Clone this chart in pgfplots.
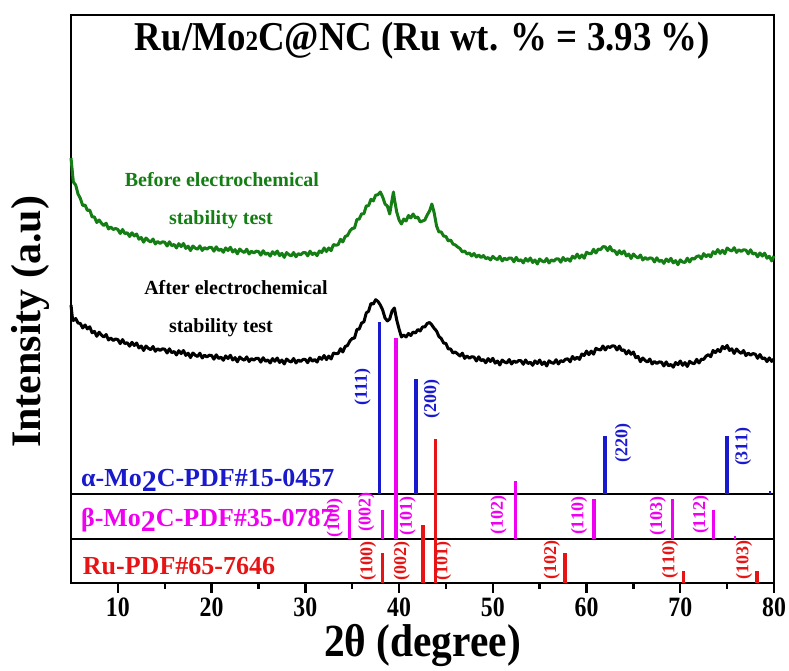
\documentclass[border=0pt]{standalone}
\usepackage{fontspec}
\setmainfont{Liberation Serif}
\usepackage{pgfplots}
\pgfplotsset{compat=1.18}
\definecolor{ablue}{RGB}{25,25,205}
\definecolor{bmag}{RGB}{240,0,240}
\definecolor{rured}{RGB}{230,20,20}
\definecolor{cgreen}{RGB}{20,125,20}
\newcommand{\fs}[1]{\fontsize{#1}{#1}\selectfont\bfseries}
\begin{document}
\begin{tikzpicture}
\begin{axis}[
  scale only axis, width=703pt, height=568pt,
  xmin=5, xmax=80, ymin=0, ymax=568,
  axis line style={line width=2.6pt},
  ytick=\empty,
  xtick={10,20,...,80}, minor xtick={15,25,...,75},
  xtick pos=bottom, tick align=outside,
  major tick length=10pt, minor tick length=6pt,
  every tick/.style={line width=2.4pt, black},
  xticklabels={10,20,30,40,50,60,70,80},
  xticklabel style={font=\fs{28}, xscale=0.85, yshift=-1pt},
  xlabel={\scalebox{0.9}[1]{\fs{46}2θ (degree)}},
  xlabel style={at={(axis description cs:0.5,0)}, anchor=center, yshift=-62pt},
  ylabel={\fs{42}Intensity (a.u)},
  ylabel style={at={(axis description cs:-0.057,0.46)}, anchor=center},
  clip=false,
]
% before (green)
\addplot[cgreen, line width=3pt, line join=round] coordinates {
(5.00,425) (5.25,401) (5.50,398) (5.75,389) (6.00,384.5) (6.25,377.5) (6.50,378) (6.75,372.5) (7.00,373) (7.25,366) (7.50,366) (7.75,360.5) (8.00,363) (8.25,359.8) (8.50,357.5) (8.75,359.8) (9.00,354) (9.25,356) (9.50,353.5) (9.75,354.5)
(10.00,353.5) (10.25,349.5) (10.50,353.5) (10.75,349.3) (11.00,350.3) (11.25,346.5) (11.50,350.2) (11.75,347) (12.00,349) (12.25,343.8) (12.50,345.5) (12.75,340.8) (13.00,345) (13.25,342.5) (13.50,341) (13.75,344) (14.00,339) (14.25,341.5) (14.50,339.5) (14.75,341.2)
(15.00,340.8) (15.25,337) (15.50,341.2) (15.75,337.3) (16.00,338.5) (16.25,335.1) (16.50,339.3) (16.75,336.4) (17.00,339.5) (17.25,334.6) (17.50,336.8) (17.75,332.4) (18.00,337) (18.25,334.9) (18.50,333.8) (18.75,337.1) (19.00,332.5) (19.25,335.4) (19.50,333.8) (19.75,335.6)
(20.00,335.5) (20.25,331.8) (20.50,336.2) (20.75,332.5) (21.00,333.9) (21.25,330.7) (21.50,335.1) (21.75,332.4) (22.00,335.7) (22.25,331) (22.50,333.4) (22.75,329.2) (23.00,334) (23.25,331.8) (23.50,330.5) (23.75,333.8) (24.00,329) (24.25,331.8) (24.50,330) (24.75,331.8)
(25.00,331.5) (25.25,327.9) (25.50,332.3) (25.75,328.6) (26.00,330) (26.25,326.9) (26.50,331.3) (26.75,328.6) (27.00,332) (27.25,327.4) (27.50,329.7) (27.75,325.6) (28.00,330.4) (28.25,328.3) (28.50,327.1) (28.75,330.5) (29.00,326.2) (29.25,329.4) (29.50,328.1) (29.75,330.3)
(30.00,330.5) (30.25,327.2) (30.50,331.8) (30.75,328.5) (31.00,330.2) (31.25,327.3) (31.50,332) (31.75,330.5) (32.00,335) (32.25,331.5) (32.50,335) (32.75,332.3) (33.00,338.5) (33.25,337.7) (33.50,338.3) (33.75,343.7) (34.00,341) (34.25,346.5) (34.50,347.5) (34.75,352)
(35.00,354.5) (35.25,355) (35.50,363.5) (35.75,364) (36.00,369.1) (36.25,369.3) (36.50,377) (36.75,377.4) (37.00,383.7) (37.25,382.1) (37.50,387.8) (37.75,388.3) (38.00,391) (38.25,386) (38.50,379) (38.75,377) (39.00,369) (39.25,383) (39.40,391) (39.50,384) (39.75,371)
(40.00,363) (40.25,359) (40.50,364) (40.75,362) (41.00,367.5) (41.25,365) (41.50,369) (41.75,365) (42.00,366) (42.25,361) (42.50,362) (42.75,363) (43.00,368) (43.25,372) (43.50,379) (43.75,370) (44.00,357) (44.25,351) (44.50,351) (44.75,347)
(45.00,346.5) (45.25,342) (45.50,343) (45.75,339) (46.00,338) (46.25,336) (46.50,334.5) (46.75,331) (47.00,332) (47.25,329) (47.50,330) (47.75,327) (48.00,329.5) (48.25,326) (48.50,328) (48.75,325.4) (49.00,327.5) (49.25,324.3) (49.50,325.5) (49.75,323)
(50.00,326.6) (50.25,324.5) (50.50,323.4) (50.75,326.7) (51.00,322) (51.25,324.8) (51.50,323.2) (51.75,325) (52.00,324.9) (52.25,321.2) (52.50,325.6) (52.75,322) (53.00,323.3) (53.25,320.1) (53.50,324.5) (53.75,321.8) (54.00,325) (54.25,320.5) (54.50,323) (54.75,319)
(55.00,324) (55.25,322) (55.50,321) (55.75,324.5) (56.00,320) (56.25,323.1) (56.50,321.8) (56.75,324) (57.00,324.2) (57.25,320.8) (57.50,325.5) (57.75,322.4) (58.00,324.4) (58.25,321.8) (58.50,326.8) (58.75,324.8) (59.00,328.9) (59.25,324.9) (59.50,328) (59.75,324.8)
(60.00,330.7) (60.25,329.5) (60.50,329.3) (60.75,333.7) (61.00,330) (61.25,333.9) (61.50,333.4) (61.75,336.3) (62.00,336.2) (62.25,332.4) (62.50,336.5) (62.75,332) (63.00,332.4) (63.25,328.4) (63.50,332.3) (63.75,329.1) (64.00,332) (64.25,327) (64.50,329) (64.75,324.5)
(65.00,329) (65.25,326.5) (65.50,325) (65.75,328) (66.00,323) (66.25,325.5) (66.50,323.6) (66.75,325.1) (67.00,324.7) (67.25,321) (67.50,325.2) (67.75,321.5) (68.00,322.8) (68.25,319.6) (68.50,324) (68.75,321.4) (69.00,324.7) (69.25,320.1) (69.50,322.4) (69.75,318.3)
(70.00,323.1) (70.25,321) (70.50,320.5) (70.75,324.8) (71.00,321) (71.25,324.7) (71.50,323.9) (71.75,326.5) (72.00,327.2) (72.25,324.3) (72.50,329.4) (72.75,326.4) (73.00,328.5) (73.25,326.1) (73.50,331.3) (73.75,329.4) (74.00,333.5) (74.25,329.6) (74.50,332.7) (74.75,329.3)
(75.00,335) (75.25,333) (75.50,332) (75.75,335.3) (76.00,330.6) (76.25,333.3) (76.50,331.5) (76.75,333.2) (77.00,332.9) (77.25,329.2) (77.50,333.2) (77.75,329) (78.00,329.9) (78.25,326.2) (78.50,330) (78.75,326.9) (79.00,329.8) (79.25,324.8) (79.50,326.7) (79.75,322.1) (80.00,327)
};
% after (black)
\addplot[black, line width=3pt, line join=round] coordinates {
(5.00,278) (5.15,265) (5.25,262.5) (5.50,264.5) (5.75,260) (6.00,259.5) (6.25,255) (6.50,258) (6.75,254.1) (7.00,256.2) (7.25,250.3) (7.50,251.6) (7.75,246.7) (8.00,250.8) (8.25,247.9) (8.50,246) (8.75,248.5) (9.00,243) (9.25,245) (9.50,242.5) (9.75,244)
(10.00,243.4) (10.25,239.4) (10.50,243.4) (10.75,239.3) (11.00,240.3) (11.25,236.8) (11.50,240.7) (11.75,237.5) (12.00,240) (12.25,235) (12.50,237) (12.75,232.5) (13.00,237) (13.25,234.7) (13.50,233.3) (13.75,236.5) (14.00,231.7) (14.25,234.3) (14.50,232.5) (14.75,234.2)
(15.00,233.8) (15.25,230) (15.50,234.2) (15.75,230.3) (16.00,231.5) (16.25,228.1) (16.50,232.3) (16.75,229.4) (17.00,232.5) (17.25,227.6) (17.50,229.8) (17.75,225.4) (18.00,230) (18.25,227.8) (18.50,226.5) (18.75,229.8) (19.00,225) (19.25,227.8) (19.50,226) (19.75,227.8)
(20.00,227.5) (20.25,223.8) (20.50,228.2) (20.75,224.5) (21.00,225.9) (21.25,222.7) (21.50,227.1) (21.75,224.4) (22.00,227.7) (22.25,223) (22.50,225.4) (22.75,221.2) (23.00,226) (23.25,223.9) (23.50,222.8) (23.75,226.1) (24.00,221.5) (24.25,224.4) (24.50,222.8) (24.75,224.7)
(25.00,224.5) (25.25,220.9) (25.50,225.3) (25.75,221.7) (26.00,223.1) (26.25,220) (26.50,224.4) (26.75,221.7) (27.00,225) (27.25,220.5) (27.50,223) (27.75,219) (28.00,224) (28.25,222) (28.50,221) (28.75,224.5) (29.00,220) (29.25,223) (29.50,221.5) (29.75,223.5)
(30.00,223.5) (30.25,220.3) (30.50,225) (30.75,221.8) (31.00,223.5) (31.25,220.9) (31.50,225.8) (31.75,223.7) (32.00,227.5) (32.25,223.4) (32.50,226.9) (32.75,224) (33.00,230) (33.25,229.3) (33.50,229.5) (33.75,234.3) (34.00,231) (34.25,236.5) (34.50,237.5) (34.75,242)
(35.00,244.5) (35.25,245) (35.50,253.5) (35.75,254) (36.00,259.9) (36.25,261.2) (36.50,270) (36.75,271.8) (37.00,279.6) (37.25,278.9) (37.50,283.3) (37.75,281.5) (38.00,278) (38.25,273) (38.50,265) (38.75,262) (39.00,264) (39.25,272) (39.50,275) (39.75,263)
(40.00,254) (40.25,246) (40.50,248) (40.75,246) (41.00,249.5) (41.25,247.5) (41.50,251) (41.75,250) (42.00,253.5) (42.25,252) (42.50,256) (42.75,256) (43.00,259.5) (43.25,260.5) (43.50,258) (43.75,254.5) (44.00,252) (44.25,246.5) (44.50,244.5) (44.75,240)
(45.00,239.5) (45.25,234) (45.50,234) (45.75,230) (46.00,231) (46.25,229) (46.50,227) (46.75,229.8) (47.00,224.6) (47.25,227) (47.50,224.8) (47.75,226.3) (48.00,225.9) (48.25,222) (48.50,226.2) (48.75,222.3) (49.00,223.5) (49.25,220.2) (49.50,224.4) (49.75,221.5)
(50.00,224.7) (50.25,219.8) (50.50,222) (50.75,218) (51.00,223) (51.25,221) (51.50,220) (51.75,223.5) (52.00,219) (52.25,222) (52.50,220.5) (52.75,222.4) (53.00,222.3) (53.25,218.7) (53.50,223) (53.75,219.4) (54.00,220.8) (54.25,217.7) (54.50,222.1) (54.75,219.5)
(55.00,223) (55.25,218.5) (55.50,221) (55.75,217) (56.00,222.2) (56.25,220.4) (56.50,219.6) (56.75,223.3) (57.00,219) (57.25,222.4) (57.50,221.3) (57.75,223.7) (58.00,224.2) (58.25,221.2) (58.50,226.5) (58.75,223.7) (59.00,225.9) (59.25,223.6) (59.50,229) (59.75,227.5)
(60.00,231.9) (60.25,228.3) (60.50,231.9) (60.75,228.8) (61.00,234.7) (61.25,233.5) (61.50,233) (61.75,237) (62.00,233) (62.25,236.5) (62.50,235.5) (62.75,237.2) (63.00,236.9) (63.25,233) (63.50,236.9) (63.75,232.5) (64.00,233.1) (64.25,229) (64.50,232.3) (64.75,228.7)
(65.00,231) (65.25,225.3) (65.50,226.5) (65.75,221.3) (66.00,225) (66.25,222.5) (66.50,221) (66.75,224) (67.00,219) (67.25,221.5) (67.50,219.5) (67.75,221.1) (68.00,220.8) (68.25,217) (68.50,221.1) (68.75,217.2) (69.00,218.6) (69.25,215.8) (69.50,220.5) (69.75,218.3)
(70.00,222) (70.25,217.7) (70.50,220.4) (70.75,216.5) (71.00,221.7) (71.25,219.9) (71.50,219.3) (71.75,223.7) (72.00,220) (72.25,223.8) (72.50,223.6) (72.75,226.9) (73.00,228.3) (73.25,226.3) (73.50,232.5) (73.75,230.4) (74.00,233.5) (74.25,231.3) (74.50,236.6) (74.75,234.3)
(75.00,237.6) (75.25,232.5) (75.50,234.2) (75.75,229.5) (76.00,234) (76.25,231.3) (76.50,229.6) (76.75,232.5) (77.00,227.4) (77.25,229.9) (77.50,227.9) (77.75,229.4) (78.00,228.9) (78.25,224.7) (78.50,228.5) (78.75,224.3) (79.00,225.1) (79.25,221.4) (79.50,225.1) (79.75,221.6) (80.00,224)
};
% separator lines
\addplot[black, line width=2.4pt] coordinates {(5,89) (80,89)};
\addplot[black, line width=2.4pt] coordinates {(5,44) (80,44)};
% alpha-Mo2C bars (base 89)
\addplot[ablue, line width=3.6pt] coordinates {(37.9,89) (37.9,261)};
\addplot[ablue, line width=3.6pt] coordinates {(41.8,89) (41.8,204)};
\addplot[ablue, line width=3.6pt] coordinates {(62.0,89) (62.0,147)};
\addplot[ablue, line width=3.6pt] coordinates {(75.0,89) (75.0,147)};
\addplot[ablue, line width=2pt] coordinates {(79.6,89) (79.6,92)};
% beta-Mo2C bars (base 44)
\addplot[bmag, line width=3.6pt] coordinates {(34.7,44) (34.7,73)};
\addplot[bmag, line width=3.6pt] coordinates {(38.25,44) (38.25,73)};
\addplot[bmag, line width=3.6pt] coordinates {(39.7,44) (39.7,245)};
\addplot[bmag, line width=3.6pt] coordinates {(52.4,44) (52.4,102)};
\addplot[bmag, line width=3.6pt] coordinates {(60.8,44) (60.8,84)};
\addplot[bmag, line width=3.6pt] coordinates {(69.15,44) (69.15,84)};
\addplot[bmag, line width=3.6pt] coordinates {(73.55,44) (73.55,73)};
\addplot[bmag, line width=2pt] coordinates {(75.8,44) (75.8,47)};
% Ru bars (base 0)
\addplot[rured, line width=3.6pt] coordinates {(38.25,0) (38.25,30)};
\addplot[rured, line width=3.6pt] coordinates {(42.55,0) (42.55,58)};
\addplot[rured, line width=3.6pt] coordinates {(43.9,0) (43.9,144)};
\addplot[rured, line width=3.6pt] coordinates {(57.7,0) (57.7,30)};
\addplot[rured, line width=3.6pt] coordinates {(70.35,0) (70.35,12)};
\addplot[rured, line width=3.6pt] coordinates {(78.2,0) (78.2,12)};
% title
\node at (axis cs:42.5,542) {\scalebox{0.9}[1]{\fs{41}Ru/Mo{\fs{28}2}C@NC (Ru wt. \% = 3.93 \%)}};
% annotations
\node[text=cgreen] at (axis cs:21.1,403) {\fs{20}Before electrochemical};
\node[text=cgreen] at (axis cs:21.0,363) {\fs{20}stability test};
\node at (axis cs:22.6,295) {\fs{20}After electrochemical};
\node at (axis cs:21.0,255) {\fs{20}stability test};
% section labels
\node[anchor=west, text=ablue] at (axis cs:5.7,103) {\fs{26}α-Mo\raisebox{-5pt}{\fs{30}2}C-PDF\#15-0457};
\node[anchor=west, text=bmag] at (axis cs:5.7,63) {\fs{26}β-Mo\raisebox{-5pt}{\fs{30}2}C-PDF\#35-0787};
\node[anchor=west, text=rured] at (axis cs:5.9,17) {\fs{26}Ru-PDF\#65-7646};
% hkl labels alpha
\node[rotate=90, text=ablue] at (axis cs:36.1,196) {\fs{18}(111)};
\node[rotate=90, text=ablue] at (axis cs:43.5,184) {\fs{18}(200)};
\node[rotate=90, text=ablue] at (axis cs:63.9,140) {\fs{18}(220)};
\node[rotate=90, text=ablue] at (axis cs:76.7,136) {\fs{18}(311)};
% hkl labels beta
\node[rotate=90, text=bmag] at (axis cs:33.15,65) {\fs{18}(100)};
\node[rotate=90, text=bmag] at (axis cs:36.5,71) {\fs{18}(002)};
\node[rotate=90, text=bmag] at (axis cs:40.9,67) {\fs{18}(101)};
\node[rotate=90, text=bmag] at (axis cs:50.6,68) {\fs{18}(102)};
\node[rotate=90, text=bmag] at (axis cs:59.2,67) {\fs{18}(110)};
\node[rotate=90, text=bmag] at (axis cs:67.6,67) {\fs{18}(103)};
\node[rotate=90, text=bmag] at (axis cs:72.2,68) {\fs{18}(112)};
% hkl labels Ru
\node[rotate=90, text=rured] at (axis cs:36.7,22) {\fs{18}(100)};
\node[rotate=90, text=rured] at (axis cs:40.3,22) {\fs{18}(002)};
\node[rotate=90, text=rured] at (axis cs:44.7,22) {\fs{18}(101)};
\node[rotate=90, text=rured] at (axis cs:56.3,23) {\fs{18}(102)};
\node[rotate=90, text=rured] at (axis cs:68.9,23) {\fs{18}(110)};
\node[rotate=90, text=rured] at (axis cs:76.8,23) {\fs{18}(103)};
\end{axis}
\pgfresetboundingbox
\path[use as bounding box] (-71pt,-88pt) rectangle (718pt,583pt);
\end{tikzpicture}
\end{document}
